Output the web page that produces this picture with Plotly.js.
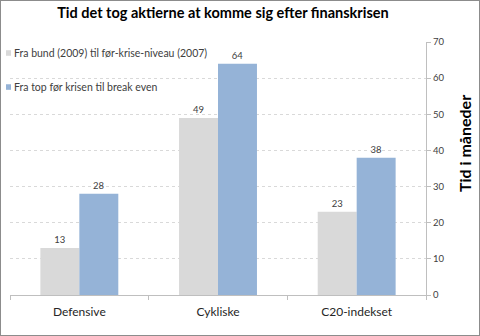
<!DOCTYPE html>
<html><head><meta charset="utf-8">
<script src="https://cdn.plot.ly/plotly-3.0.1.min.js"></script>
<style>
html,body{margin:0;padding:0;background:#fff;}
#wrap{width:480px;height:336px;box-sizing:border-box;border:1px solid #8c8c8c;}
#chart{width:478px;height:334px;}
</style></head><body>
<div id="wrap"><div id="chart"></div></div>
<script>
const categories = ["Defensive", "Cykliske", "C20-indekset"];
const seriesNames = ["Fra bund (2009) til før-krise-niveau (2007)", "Fra top før krisen til break even"];
const bundValues = [13, 49, 23];
const topValues = [28, 64, 38];
const yTicks = [0, 10, 20, 30, 40, 50, 60, 70];
const seriesColors = ["#d9d9d9", "#95b3d7"];

const FONT = "Lato, 'Open Sans', sans-serif";
const traces = [
  {type:"bar", name:seriesNames[0], x:categories, y:bundValues,
   marker:{color:seriesColors[0]}, text:bundValues.map(String), textposition:"outside",
   textfont:{size:9.5, color:"#404040", family:FONT}, cliponaxis:false},
  {type:"bar", name:seriesNames[1], x:categories, y:topValues,
   marker:{color:seriesColors[1]}, text:topValues.map(String), textposition:"outside",
   textfont:{size:9.5, color:"#404040", family:FONT}, cliponaxis:false}
];

// legend drawn as annotations + small squares (Excel-style compact legend)
const legendY = [0.9565, 0.822];
const annotations = [];
const shapes = [];
seriesNames.forEach((nm, i) => {
  annotations.push({xref:"paper", yref:"paper", x:0.005, y:legendY[i], xanchor:"left", yanchor:"middle",
    text:nm, showarrow:false, font:{size:10.5, color:"#404040", family:FONT}});
  shapes.push({type:"rect", xref:"paper", yref:"paper", x0:-0.0096, x1:0.0024,
    y0:legendY[i]-0.011, y1:legendY[i]+0.011, fillcolor:seriesColors[i], line:{width:0}});
});
annotations.push({xref:"paper", yref:"paper", x:1.094, y:0.597, xanchor:"center", yanchor:"middle",
  text:"<b>Tid i måneder</b>", textangle:-90, showarrow:false, font:{size:16, color:"#000", family:FONT}});

const layout = {
  width:478, height:334,
  margin:{l:9, r:53, t:41, b:40},
  paper_bgcolor:"#fff", plot_bgcolor:"#fff",
  font:{family:FONT, color:"#404040"},
  title:{text:"<b>Tid det tog aktierne at komme sig efter finanskrisen</b>",
         font:{size:14.5, color:"#000", family:FONT}, x:222/478, xref:"container", xanchor:"center",
         y:0.965, yanchor:"middle", yref:"container"},
  barmode:"group", bargap:0.438, bargroupgap:0,
  showlegend:false,
  xaxis:{type:"category", showline:true, linecolor:"#bfbfbf", linewidth:1,
         ticks:"outside", tickson:"boundaries", ticklen:4, tickcolor:"#bfbfbf", ticklabelstandoff:6,
         tickfont:{size:12, color:"#262626"}, showgrid:false, zeroline:false},
  yaxis:{side:"right", range:[0,70], tickvals:yTicks, showline:true, linecolor:"#bfbfbf",
         ticks:"outside", ticklen:4, tickcolor:"#bfbfbf", tickfont:{size:9.5, color:"#404040"},
         showgrid:true, gridcolor:"#d9d9d9", griddash:"dot", zeroline:false},
  annotations:annotations,
  shapes:shapes
};
Plotly.newPlot("chart", traces, layout, {displayModeBar:false, staticPlot:true});
</script></body></html>
